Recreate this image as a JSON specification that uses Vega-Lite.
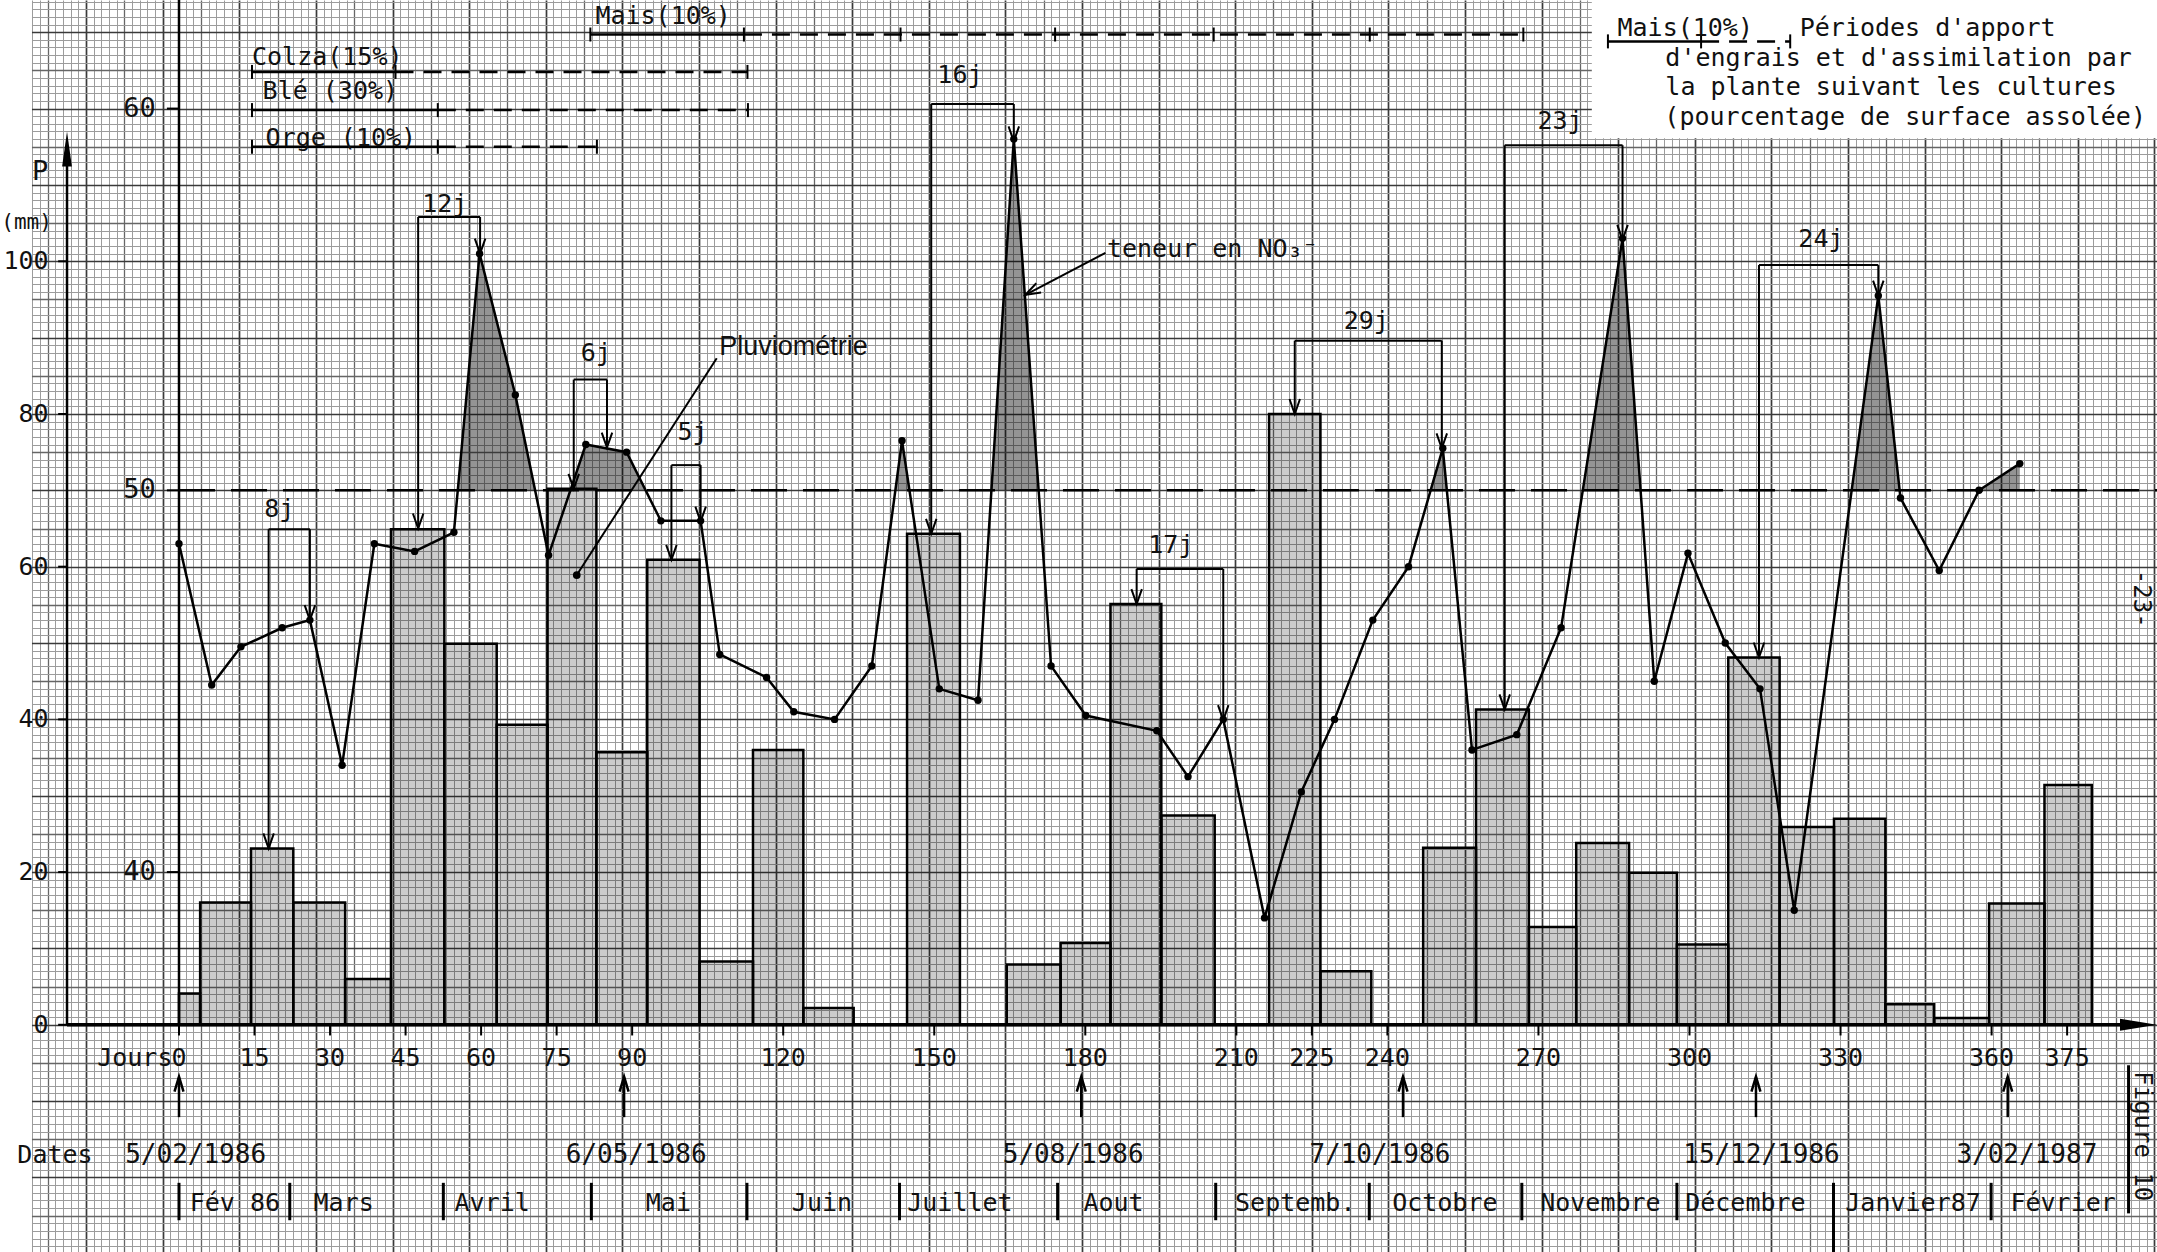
{
  "$schema": "https://vega.github.io/schema/vega-lite/v6.json",
  "width": 2157,
  "height": 1252,
  "autosize": "none",
  "padding": 0,
  "background": "white",
  "config": {
    "view": {"stroke": null},
    "text": {"font": "DejaVu Sans Mono", "fontSize": 25, "color": "#111111"}
  },
  "datasets": {
    "rain": [
      {"start": 0, "end": 4.2, "p": 4.1}, {"start": 4.2, "end": 14.3, "p": 16}, {"start": 14.3, "end": 22.7, "p": 23.1},
      {"start": 22.7, "end": 33.0, "p": 16}, {"start": 33.0, "end": 42.1, "p": 6}, {"start": 42.1, "end": 52.7, "p": 64.9},
      {"start": 52.7, "end": 63.1, "p": 49.9}, {"start": 63.1, "end": 73.2, "p": 39.3}, {"start": 73.2, "end": 82.9, "p": 70.2},
      {"start": 82.9, "end": 93.0, "p": 35.7}, {"start": 93.0, "end": 103.4, "p": 60.9}, {"start": 103.4, "end": 114.0, "p": 8.3},
      {"start": 114.0, "end": 124.0, "p": 36}, {"start": 124.0, "end": 134.0, "p": 2.2}, {"start": 144.6, "end": 155.1, "p": 64.3},
      {"start": 164.4, "end": 175.1, "p": 7.9}, {"start": 175.1, "end": 185.0, "p": 10.7}, {"start": 185.0, "end": 195.1, "p": 55.1},
      {"start": 195.1, "end": 205.7, "p": 27.4}, {"start": 216.5, "end": 226.7, "p": 80}, {"start": 226.7, "end": 236.8, "p": 7.0},
      {"start": 247.1, "end": 257.6, "p": 23.2}, {"start": 257.6, "end": 268.1, "p": 41.3}, {"start": 268.1, "end": 277.5, "p": 12.8},
      {"start": 277.5, "end": 288.0, "p": 23.8}, {"start": 288.0, "end": 297.5, "p": 19.9}, {"start": 297.5, "end": 307.7, "p": 10.5},
      {"start": 307.7, "end": 317.9, "p": 48.1}, {"start": 317.9, "end": 328.7, "p": 25.9}, {"start": 328.7, "end": 338.9, "p": 27.0},
      {"start": 338.9, "end": 348.6, "p": 2.7}, {"start": 348.6, "end": 359.5, "p": 0.9}, {"start": 359.5, "end": 370.5, "p": 15.9},
      {"start": 370.5, "end": 379.9, "p": 31.4}
    ],
    "no3": [
      {"d": 0, "n": 48.6}, {"d": 6.5, "n": 44.9}, {"d": 12.3, "n": 45.9}, {"d": 20.5, "n": 46.4}, {"d": 26.0, "n": 46.6},
      {"d": 32.4, "n": 42.8}, {"d": 38.8, "n": 48.6}, {"d": 46.8, "n": 48.4}, {"d": 54.6, "n": 48.9}, {"d": 59.7, "n": 56.2},
      {"d": 66.8, "n": 52.5}, {"d": 73.4, "n": 48.3}, {"d": 80.8, "n": 51.2}, {"d": 88.9, "n": 51.0}, {"d": 95.7, "n": 49.2},
      {"d": 103.6, "n": 49.2}, {"d": 107.4, "n": 45.7}, {"d": 116.7, "n": 45.1}, {"d": 122.1, "n": 44.2}, {"d": 130.2, "n": 44.0},
      {"d": 137.6, "n": 45.4}, {"d": 143.6, "n": 51.3}, {"d": 151.0, "n": 44.8}, {"d": 158.7, "n": 44.5}, {"d": 165.8, "n": 59.2},
      {"d": 173.2, "n": 45.4}, {"d": 180.1, "n": 44.1}, {"d": 194.2, "n": 43.7}, {"d": 200.4, "n": 42.5}, {"d": 207.4, "n": 44.0},
      {"d": 215.6, "n": 38.8}, {"d": 222.9, "n": 42.1}, {"d": 229.5, "n": 44.0}, {"d": 237.1, "n": 46.6}, {"d": 244.2, "n": 48.0},
      {"d": 251.0, "n": 51.1}, {"d": 256.8, "n": 43.2}, {"d": 265.7, "n": 43.6}, {"d": 274.5, "n": 46.4}, {"d": 286.7, "n": 56.6},
      {"d": 293.0, "n": 45.0}, {"d": 299.7, "n": 48.35}, {"d": 307.1, "n": 46.0}, {"d": 314.0, "n": 44.8}, {"d": 320.8, "n": 39.0},
      {"d": 337.5, "n": 55.1}, {"d": 341.9, "n": 49.8}, {"d": 349.6, "n": 47.9}, {"d": 357.5, "n": 50.0}, {"d": 365.6, "n": 50.7}
    ],
    "peaks": [
      {"r": "a", "d": 55.4, "n": 50}, {"r": "a", "d": 59.7, "n": 56.2}, {"r": "a", "d": 66.8, "n": 52.5}, {"r": "a", "d": 70.7, "n": 50},
      {"r": "b", "d": 77.7, "n": 50}, {"r": "b", "d": 80.8, "n": 51.2}, {"r": "b", "d": 88.9, "n": 51.0}, {"r": "b", "d": 92.7, "n": 50},
      {"r": "c", "d": 142.3, "n": 50}, {"r": "c", "d": 143.6, "n": 51.3}, {"r": "c", "d": 145.1, "n": 50},
      {"r": "d", "d": 161.4, "n": 50}, {"r": "d", "d": 165.8, "n": 59.2}, {"r": "d", "d": 170.7, "n": 50},
      {"r": "e", "d": 248.6, "n": 50}, {"r": "e", "d": 251.0, "n": 51.1}, {"r": "e", "d": 251.8, "n": 50},
      {"r": "f", "d": 278.8, "n": 50}, {"r": "f", "d": 286.7, "n": 56.6}, {"r": "f", "d": 290.3, "n": 50},
      {"r": "g", "d": 332.2, "n": 50}, {"r": "g", "d": 337.5, "n": 55.1}, {"r": "g", "d": 341.7, "n": 50},
      {"r": "h", "d": 357.5, "n": 50}, {"r": "h", "d": 365.6, "n": 50.7}
    ],
    "brackets": [
      {"t": "8j", "x1": 17.8, "x2": 26.0, "top": 64.9, "b1": 23.1, "b2": 53.0, "lx": 19.9, "ly": 67.5},
      {"t": "12j", "x1": 47.5, "x2": 59.8, "top": 105.8, "b1": 65.0, "b2": 101.0, "lx": 52.8, "ly": 107.5},
      {"t": "6j", "x1": 78.4, "x2": 85.0, "top": 84.5, "b1": 70.2, "b2": 75.6, "lx": 82.8, "ly": 88.0},
      {"t": "5j", "x1": 97.8, "x2": 103.6, "top": 73.3, "b1": 60.9, "b2": 65.9, "lx": 102.0, "ly": 77.6},
      {"t": "16j", "x1": 149.4, "x2": 165.8, "top": 120.6, "b1": 64.3, "b2": 115.7, "lx": 155.1, "ly": 124.4},
      {"t": "17j", "x1": 190.2, "x2": 207.4, "top": 59.7, "b1": 55.1, "b2": 39.9, "lx": 197.0, "ly": 62.8},
      {"t": "29j", "x1": 221.6, "x2": 250.8, "top": 89.6, "b1": 80.0, "b2": 75.5, "lx": 235.8, "ly": 92.2},
      {"t": "23j", "x1": 263.3, "x2": 286.7, "top": 115.2, "b1": 41.3, "b2": 102.8, "lx": 274.3, "ly": 118.4},
      {"t": "24j", "x1": 313.8, "x2": 337.5, "top": 99.5, "b1": 48.1, "b2": 95.5, "lx": 326.1, "ly": 102.9}
    ],
    "crops": [
      {"c": "Mais", "phase": "apport", "start": 81.7, "end": 112.2, "p": 129.7},
      {"c": "Mais", "phase": "assimilation", "start": 112.2, "end": 267.0, "p": 129.7},
      {"c": "Colza", "phase": "apport", "start": 14.5, "end": 43.0, "p": 124.8},
      {"c": "Colza", "phase": "assimilation", "start": 43.0, "end": 112.9, "p": 124.8},
      {"c": "Blé", "phase": "apport", "start": 14.5, "end": 51.4, "p": 119.8},
      {"c": "Blé", "phase": "assimilation", "start": 51.4, "end": 113.0, "p": 119.8},
      {"c": "Orge", "phase": "apport", "start": 14.5, "end": 51.4, "p": 115.0},
      {"c": "Orge", "phase": "assimilation", "start": 51.4, "end": 83.0, "p": 115.0},
      {"c": "légende", "phase": "apport", "start": 283.8, "end": 302.3, "p": 128.8},
      {"c": "légende", "phase": "assimilation", "start": 302.3, "end": 320.0, "p": 128.8}
    ],
    "cropTicks": [
      {"d": 81.7, "p": 129.7}, {"d": 112.2, "p": 129.7}, {"d": 143.3, "p": 129.7}, {"d": 174.0, "p": 129.7},
      {"d": 205.5, "p": 129.7}, {"d": 236.5, "p": 129.7}, {"d": 267.0, "p": 129.7},
      {"d": 14.5, "p": 124.8}, {"d": 43.0, "p": 124.8}, {"d": 112.9, "p": 124.8},
      {"d": 14.5, "p": 119.8}, {"d": 51.4, "p": 119.8}, {"d": 113.0, "p": 119.8},
      {"d": 14.5, "p": 115.0}, {"d": 51.4, "p": 115.0}, {"d": 83.0, "p": 115.0},
      {"d": 283.8, "p": 128.8}, {"d": 302.3, "p": 128.8}, {"d": 320.0, "p": 128.8}
    ],
    "textLeft": [
      {"t": "Mais(10%)", "x": 82.7, "y": 132.1},
      {"t": "Colza(15%)", "x": 14.5, "y": 126.7},
      {"t": "Blé (30%)", "x": 16.6, "y": 122.3},
      {"t": "Orge (10%)", "x": 17.2, "y": 116.1},
      {"t": "Mais(10%)", "x": 285.7, "y": 130.5},
      {"t": "Périodes d'apport", "x": 321.9, "y": 130.5},
      {"t": "d'engrais et d'assimilation par", "x": 295.2, "y": 126.6},
      {"t": "la plante suivant les cultures", "x": 295.2, "y": 122.8},
      {"t": "(pourcentage de surface assolée)", "x": 295.0, "y": 118.9},
      {"t": "teneur en NO₃⁻", "x": 184.3, "y": 101.6},
      {"t": "Dates", "x": -32.1, "y": -17.05}
    ],
    "textRight": [
      {"t": "Jours", "x": -1.3, "y": -4.35}
    ],
    "textSmall": [
      {"t": "(mm)", "x": -35.3, "y": 105}
    ],
    "textCenter": [
      {"t": "P", "x": -27.6, "y": 111.7}
    ],
    "textRot": [
      {"t": "-23-", "x": 389.6, "y": 55.8},
      {"t": "Figure 10", "x": 389.8, "y": -14.6}
    ],
    "pTicks": [{"v": 0}, {"v": 20}, {"v": 40}, {"v": 60}, {"v": 80}, {"v": 100}],
    "nTicks": [{"v": 40}, {"v": 50}, {"v": 60}],
    "dayTicks": [
      {"d": 0}, {"d": 15}, {"d": 30}, {"d": 45}, {"d": 60}, {"d": 75}, {"d": 90}, {"d": 120}, {"d": 150},
      {"d": 180}, {"d": 210}, {"d": 225}, {"d": 240}, {"d": 270}, {"d": 300}, {"d": 330}, {"d": 360}, {"d": 375}
    ],
    "dates": [
      {"date": "5/02/1986", "arrow": 0, "pos": 3.3},
      {"date": "6/05/1986", "arrow": 88.4, "pos": 90.8},
      {"date": "5/08/1986", "arrow": 179.2, "pos": 177.6},
      {"date": "7/10/1986", "arrow": 243.1, "pos": 238.5},
      {"date": "15/12/1986", "arrow": 313.2, "pos": 314.3},
      {"date": "3/02/1987", "arrow": 363.2, "pos": 367.0}
    ],
    "months": [
      {"m": "Fév 86", "pos": 11.1}, {"m": "Mars", "pos": 32.7}, {"m": "Avril", "pos": 62.2}, {"m": "Mai", "pos": 97.2},
      {"m": "Juin", "pos": 127.7}, {"m": "Juillet", "pos": 155.1}, {"m": "Aout", "pos": 185.6}, {"m": "Septemb.", "pos": 221.7},
      {"m": "Octobre", "pos": 251.4}, {"m": "Novembre", "pos": 282.3}, {"m": "Décembre", "pos": 311.1},
      {"m": "Janvier87", "pos": 344.4}, {"m": "Février", "pos": 374.2}
    ],
    "monthSeps": [
      {"d": 0, "y1": -20.7, "y2": -25.6}, {"d": 22.0, "y1": -20.7, "y2": -25.6}, {"d": 52.5, "y1": -20.7, "y2": -25.6},
      {"d": 81.9, "y1": -20.7, "y2": -25.6}, {"d": 112.8, "y1": -20.7, "y2": -25.6}, {"d": 143.1, "y1": -20.7, "y2": -25.6},
      {"d": 174.5, "y1": -20.7, "y2": -25.6}, {"d": 205.9, "y1": -20.7, "y2": -25.6}, {"d": 236.4, "y1": -20.7, "y2": -25.6},
      {"d": 266.7, "y1": -20.7, "y2": -25.6}, {"d": 297.5, "y1": -20.7, "y2": -25.6}, {"d": 328.6, "y1": -20.7, "y2": -29.8},
      {"d": 359.9, "y1": -20.7, "y2": -25.6}, {"d": 387.2, "y1": -5.3, "y2": -24.7}
    ],
    "boxes": [
      {"x1": -40, "x2": -29.2, "y1": -40, "y2": 140},
      {"x1": 280.6, "x2": 400, "y1": 116.1, "y2": 140}
    ],
    "pointers": [
      {"x1": 106.8, "y1": 87.3, "x2": 79.0, "y2": 58.9},
      {"x1": 184.0, "y1": 101.1, "x2": 168.1, "y2": 95.6}
    ],
    "one": [{"k": 1}]
  },
  "resolve": {"scale": {"x": "independent", "y": "independent"}, "axis": {"x": "independent", "y": "independent"}},
  "layer": [
    {
      "data": {"values": [{"g": 0}]},
      "mark": {"type": "point", "opacity": 0},
      "encoding": {
        "x": {"field": "g", "type": "quantitative", "title": null,
          "scale": {"domain": [-1.24, 280.35], "nice": false, "zero": false},
          "axis": {"orient": "top", "tickCount": 282, "grid": true, "labels": false, "ticks": false, "domain": false, "title": null,
            "gridColor": {"condition": [{"test": "datum.value % 10 === 0", "value": "#3a3a3a"}, {"test": "datum.value % 5 === 0", "value": "#666666"}], "value": "#9c9c9c"},
            "gridWidth": {"condition": [{"test": "datum.value % 10 === 0", "value": 1.7}, {"test": "datum.value % 5 === 0", "value": 1.3}], "value": 1}}},
        "y": {"field": "g", "type": "quantitative", "title": null,
          "scale": {"domain": [-29.76, 134.22], "nice": false, "zero": false},
          "axis": {"orient": "left", "tickCount": 164, "grid": true, "labels": false, "ticks": false, "domain": false, "title": null,
            "gridColor": {"condition": [{"test": "datum.value % 10 === 0", "value": "#3a3a3a"}, {"test": "datum.value % 5 === 0", "value": "#666666"}], "value": "#9c9c9c"},
            "gridWidth": {"condition": [{"test": "datum.value % 10 === 0", "value": 1.7}, {"test": "datum.value % 5 === 0", "value": 1.3}], "value": 1}}}
      }
    },
    {
      "layer": [
        {
          "data": {"name": "boxes"},
          "mark": {"type": "rect", "fill": "white", "stroke": null},
          "encoding": {
            "x": {"field": "x1", "type": "quantitative", "scale": {"domain": [-35.55, 392.85], "nice": false, "zero": false}, "axis": null},
            "x2": {"field": "x2"},
            "y": {"field": "y1", "type": "quantitative", "scale": {"domain": [-29.76, 134.22], "nice": false, "zero": false}, "axis": null},
            "y2": {"field": "y2"}
          }
        },
        {
          "data": {"name": "rain"},
          "mark": {"type": "rect", "fill": "#000000", "fillOpacity": 0.2, "stroke": "#000000", "strokeWidth": 2.5},
          "encoding": {
            "x": {"field": "start", "type": "quantitative", "scale": {"domain": [-35.55, 392.85], "nice": false, "zero": false}, "axis": null},
            "x2": {"field": "end"},
            "y": {"field": "p", "type": "quantitative", "scale": {"domain": [-29.76, 134.22], "nice": false, "zero": false}, "axis": null},
            "y2": {"datum": 0}
          }
        },
        {
          "data": {"name": "crops"},
          "mark": {"type": "rule", "color": "#000000", "strokeWidth": 2.5},
          "encoding": {
            "x": {"field": "start", "type": "quantitative", "scale": {"domain": [-35.55, 392.85], "nice": false, "zero": false}, "axis": null},
            "x2": {"field": "end"},
            "y": {"field": "p", "type": "quantitative", "scale": {"domain": [-29.76, 134.22], "nice": false, "zero": false}, "axis": null},
            "strokeDash": {"field": "phase", "type": "nominal", "scale": {"domain": ["apport", "assimilation"], "range": [[1, 0], [18, 10]]}, "legend": null}
          }
        },
        {
          "data": {"name": "cropTicks"},
          "mark": {"type": "point", "shape": "M0,-1L0,1", "size": 196, "filled": false, "stroke": "#000000", "strokeWidth": 2, "opacity": 1},
          "encoding": {
            "x": {"field": "d", "type": "quantitative", "scale": {"domain": [-35.55, 392.85], "nice": false, "zero": false}, "axis": null},
            "y": {"field": "p", "type": "quantitative", "scale": {"domain": [-29.76, 134.22], "nice": false, "zero": false}, "axis": null}
          }
        },
        {
          "data": {"name": "brackets"},
          "mark": {"type": "rule", "color": "#000000", "strokeWidth": 2},
          "encoding": {
            "x": {"field": "x1", "type": "quantitative", "scale": {"domain": [-35.55, 392.85], "nice": false, "zero": false}, "axis": null},
            "x2": {"field": "x2"},
            "y": {"field": "top", "type": "quantitative", "scale": {"domain": [-29.76, 134.22], "nice": false, "zero": false}, "axis": null}
          }
        },
        {
          "data": {"name": "brackets"},
          "mark": {"type": "rule", "color": "#000000", "strokeWidth": 2},
          "encoding": {
            "x": {"field": "x1", "type": "quantitative", "scale": {"domain": [-35.55, 392.85], "nice": false, "zero": false}, "axis": null},
            "y": {"field": "top", "type": "quantitative", "scale": {"domain": [-29.76, 134.22], "nice": false, "zero": false}, "axis": null},
            "y2": {"field": "b1"}
          }
        },
        {
          "data": {"name": "brackets"},
          "mark": {"type": "rule", "color": "#000000", "strokeWidth": 2},
          "encoding": {
            "x": {"field": "x2", "type": "quantitative", "scale": {"domain": [-35.55, 392.85], "nice": false, "zero": false}, "axis": null},
            "y": {"field": "top", "type": "quantitative", "scale": {"domain": [-29.76, 134.22], "nice": false, "zero": false}, "axis": null},
            "y2": {"field": "b2"}
          }
        },
        {
          "data": {"name": "brackets"},
          "mark": {"type": "point", "shape": "M-0.35,-1L0,0L0.35,-1", "size": 900, "filled": false, "stroke": "#000000", "strokeWidth": 2, "opacity": 1},
          "encoding": {
            "x": {"field": "x1", "type": "quantitative", "scale": {"domain": [-35.55, 392.85], "nice": false, "zero": false}, "axis": null},
            "y": {"field": "b1", "type": "quantitative", "scale": {"domain": [-29.76, 134.22], "nice": false, "zero": false}, "axis": null}
          }
        },
        {
          "data": {"name": "brackets"},
          "mark": {"type": "point", "shape": "M-0.35,-1L0,0L0.35,-1", "size": 900, "filled": false, "stroke": "#000000", "strokeWidth": 2, "opacity": 1},
          "encoding": {
            "x": {"field": "x2", "type": "quantitative", "scale": {"domain": [-35.55, 392.85], "nice": false, "zero": false}, "axis": null},
            "y": {"field": "b2", "type": "quantitative", "scale": {"domain": [-29.76, 134.22], "nice": false, "zero": false}, "axis": null}
          }
        },
        {
          "data": {"name": "brackets"},
          "mark": {"type": "text", "align": "center", "baseline": "middle"},
          "encoding": {
            "x": {"field": "lx", "type": "quantitative", "scale": {"domain": [-35.55, 392.85], "nice": false, "zero": false}, "axis": null},
            "y": {"field": "ly", "type": "quantitative", "scale": {"domain": [-29.76, 134.22], "nice": false, "zero": false}, "axis": null},
            "text": {"field": "t"}
          }
        },
        {
          "data": {"name": "one"},
          "mark": {"type": "rule", "color": "#000000", "strokeWidth": 3.5},
          "encoding": {
            "x": {"datum": -22.24, "type": "quantitative", "scale": {"domain": [-35.55, 392.85], "nice": false, "zero": false}, "axis": null},
            "x2": {"datum": 390},
            "y": {"datum": 0, "type": "quantitative", "scale": {"domain": [-29.76, 134.22], "nice": false, "zero": false}, "axis": null}
          }
        },
        {
          "data": {"name": "one"},
          "mark": {"type": "rule", "color": "#000000", "strokeWidth": 2.5},
          "encoding": {
            "x": {"datum": -22.24, "type": "quantitative", "scale": {"domain": [-35.55, 392.85], "nice": false, "zero": false}, "axis": null},
            "y": {"datum": 0, "type": "quantitative", "scale": {"domain": [-29.76, 134.22], "nice": false, "zero": false}, "axis": null},
            "y2": {"datum": 114}
          }
        },
        {
          "data": {"name": "one"},
          "mark": {"type": "rule", "color": "#000000", "strokeWidth": 2.5},
          "encoding": {
            "x": {"datum": 0, "type": "quantitative", "scale": {"domain": [-35.55, 392.85], "nice": false, "zero": false}, "axis": null},
            "y": {"datum": 0, "type": "quantitative", "scale": {"domain": [-29.76, 134.22], "nice": false, "zero": false}, "axis": null},
            "y2": {"datum": 134.22}
          }
        },
        {
          "data": {"name": "one"},
          "mark": {"type": "point", "shape": "M0,0L-0.14,1L0.14,1Z", "size": 4900, "filled": true, "fill": "#000000", "stroke": null, "opacity": 1},
          "encoding": {
            "x": {"datum": -22.24, "type": "quantitative", "scale": {"domain": [-35.55, 392.85], "nice": false, "zero": false}, "axis": null},
            "y": {"datum": 117, "type": "quantitative", "scale": {"domain": [-29.76, 134.22], "nice": false, "zero": false}, "axis": null}
          }
        },
        {
          "data": {"name": "one"},
          "mark": {"type": "point", "shape": "M0,0L-1,-0.16L-1,0.16Z", "size": 5476, "filled": true, "fill": "#000000", "stroke": null, "opacity": 1},
          "encoding": {
            "x": {"datum": 392.85, "type": "quantitative", "scale": {"domain": [-35.55, 392.85], "nice": false, "zero": false}, "axis": null},
            "y": {"datum": 0, "type": "quantitative", "scale": {"domain": [-29.76, 134.22], "nice": false, "zero": false}, "axis": null}
          }
        },
        {
          "data": {"name": "pTicks"},
          "mark": {"type": "rule", "color": "#000000", "strokeWidth": 2},
          "encoding": {
            "x": {"datum": -24.0, "type": "quantitative", "scale": {"domain": [-35.55, 392.85], "nice": false, "zero": false}, "axis": null},
            "x2": {"datum": -22.24},
            "y": {"field": "v", "type": "quantitative", "scale": {"domain": [-29.76, 134.22], "nice": false, "zero": false}, "axis": null}
          }
        },
        {
          "data": {"name": "pTicks"},
          "mark": {"type": "text", "align": "right", "baseline": "middle", "fontSize": 25},
          "encoding": {
            "x": {"datum": -25.9, "type": "quantitative", "scale": {"domain": [-35.55, 392.85], "nice": false, "zero": false}, "axis": null},
            "y": {"field": "v", "type": "quantitative", "scale": {"domain": [-29.76, 134.22], "nice": false, "zero": false}, "axis": null},
            "text": {"field": "v"}
          }
        },
        {
          "data": {"name": "dayTicks"},
          "mark": {"type": "rule", "color": "#000000", "strokeWidth": 2},
          "encoding": {
            "x": {"field": "d", "type": "quantitative", "scale": {"domain": [-35.55, 392.85], "nice": false, "zero": false}, "axis": null},
            "y": {"datum": 0, "type": "quantitative", "scale": {"domain": [-29.76, 134.22], "nice": false, "zero": false}, "axis": null},
            "y2": {"datum": -1.4}
          }
        },
        {
          "data": {"name": "dayTicks"},
          "mark": {"type": "text", "align": "center", "baseline": "middle"},
          "encoding": {
            "x": {"field": "d", "type": "quantitative", "scale": {"domain": [-35.55, 392.85], "nice": false, "zero": false}, "axis": null},
            "y": {"datum": -4.35, "type": "quantitative", "scale": {"domain": [-29.76, 134.22], "nice": false, "zero": false}, "axis": null},
            "text": {"field": "d"}
          }
        },
        {
          "data": {"name": "dates"},
          "mark": {"type": "rule", "color": "#000000", "strokeWidth": 2.5},
          "encoding": {
            "x": {"field": "arrow", "type": "quantitative", "scale": {"domain": [-35.55, 392.85], "nice": false, "zero": false}, "axis": null},
            "y": {"datum": -6.9, "type": "quantitative", "scale": {"domain": [-29.76, 134.22], "nice": false, "zero": false}, "axis": null},
            "y2": {"datum": -12.1}
          }
        },
        {
          "data": {"name": "dates"},
          "mark": {"type": "point", "shape": "M-0.3,1L0,0L0.3,1", "size": 900, "filled": false, "stroke": "#000000", "strokeWidth": 2.5, "opacity": 1},
          "encoding": {
            "x": {"field": "arrow", "type": "quantitative", "scale": {"domain": [-35.55, 392.85], "nice": false, "zero": false}, "axis": null},
            "y": {"datum": -6.8, "type": "quantitative", "scale": {"domain": [-29.76, 134.22], "nice": false, "zero": false}, "axis": null}
          }
        },
        {
          "data": {"name": "dates"},
          "mark": {"type": "text", "align": "center", "baseline": "middle", "fontSize": 26},
          "encoding": {
            "x": {"field": "pos", "type": "quantitative", "scale": {"domain": [-35.55, 392.85], "nice": false, "zero": false}, "axis": null},
            "y": {"datum": -17.05, "type": "quantitative", "scale": {"domain": [-29.76, 134.22], "nice": false, "zero": false}, "axis": null},
            "text": {"field": "date"}
          }
        },
        {
          "data": {"name": "months"},
          "mark": {"type": "text", "align": "center", "baseline": "middle"},
          "encoding": {
            "x": {"field": "pos", "type": "quantitative", "scale": {"domain": [-35.55, 392.85], "nice": false, "zero": false}, "axis": null},
            "y": {"datum": -23.3, "type": "quantitative", "scale": {"domain": [-29.76, 134.22], "nice": false, "zero": false}, "axis": null},
            "text": {"field": "m"}
          }
        },
        {
          "data": {"name": "monthSeps"},
          "mark": {"type": "rule", "color": "#000000", "strokeWidth": 3},
          "encoding": {
            "x": {"field": "d", "type": "quantitative", "scale": {"domain": [-35.55, 392.85], "nice": false, "zero": false}, "axis": null},
            "y": {"field": "y1", "type": "quantitative", "scale": {"domain": [-29.76, 134.22], "nice": false, "zero": false}, "axis": null},
            "y2": {"field": "y2"}
          }
        },
        {
          "data": {"name": "pointers"},
          "mark": {"type": "rule", "color": "#000000", "strokeWidth": 2},
          "encoding": {
            "x": {"field": "x1", "type": "quantitative", "scale": {"domain": [-35.55, 392.85], "nice": false, "zero": false}, "axis": null},
            "x2": {"field": "x2"},
            "y": {"field": "y1", "type": "quantitative", "scale": {"domain": [-29.76, 134.22], "nice": false, "zero": false}, "axis": null},
            "y2": {"field": "y2"}
          }
        },
        {
          "data": {"name": "one"},
          "mark": {"type": "point", "shape": "circle", "size": 60, "filled": true, "fill": "#000000", "opacity": 1},
          "encoding": {
            "x": {"datum": 79.0, "type": "quantitative", "scale": {"domain": [-35.55, 392.85], "nice": false, "zero": false}, "axis": null},
            "y": {"datum": 58.9, "type": "quantitative", "scale": {"domain": [-29.76, 134.22], "nice": false, "zero": false}, "axis": null}
          }
        },
        {
          "data": {"name": "one"},
          "mark": {"type": "point", "shape": "M-0.35,-1L0,0L0.35,-1", "size": 900, "angle": 62.5, "filled": false, "stroke": "#000000", "strokeWidth": 2, "opacity": 1},
          "encoding": {
            "x": {"datum": 168.1, "type": "quantitative", "scale": {"domain": [-35.55, 392.85], "nice": false, "zero": false}, "axis": null},
            "y": {"datum": 95.6, "type": "quantitative", "scale": {"domain": [-29.76, 134.22], "nice": false, "zero": false}, "axis": null}
          }
        },
        {
          "data": {"name": "one"},
          "mark": {"type": "text", "align": "left", "baseline": "middle", "font": "Liberation Sans", "fontSize": 27, "text": "Pluviométrie"},
          "encoding": {
            "x": {"datum": 107.3, "type": "quantitative", "scale": {"domain": [-35.55, 392.85], "nice": false, "zero": false}, "axis": null},
            "y": {"datum": 88.8, "type": "quantitative", "scale": {"domain": [-29.76, 134.22], "nice": false, "zero": false}, "axis": null}
          }
        },
        {
          "data": {"name": "textLeft"},
          "mark": {"type": "text", "align": "left", "baseline": "middle"},
          "encoding": {
            "x": {"field": "x", "type": "quantitative", "scale": {"domain": [-35.55, 392.85], "nice": false, "zero": false}, "axis": null},
            "y": {"field": "y", "type": "quantitative", "scale": {"domain": [-29.76, 134.22], "nice": false, "zero": false}, "axis": null},
            "text": {"field": "t"}
          }
        },
        {
          "data": {"name": "textSmall"},
          "mark": {"type": "text", "align": "left", "baseline": "middle", "fontSize": 21},
          "encoding": {
            "x": {"field": "x", "type": "quantitative", "scale": {"domain": [-35.55, 392.85], "nice": false, "zero": false}, "axis": null},
            "y": {"field": "y", "type": "quantitative", "scale": {"domain": [-29.76, 134.22], "nice": false, "zero": false}, "axis": null},
            "text": {"field": "t"}
          }
        },
        {
          "data": {"name": "textRight"},
          "mark": {"type": "text", "align": "right", "baseline": "middle"},
          "encoding": {
            "x": {"field": "x", "type": "quantitative", "scale": {"domain": [-35.55, 392.85], "nice": false, "zero": false}, "axis": null},
            "y": {"field": "y", "type": "quantitative", "scale": {"domain": [-29.76, 134.22], "nice": false, "zero": false}, "axis": null},
            "text": {"field": "t"}
          }
        },
        {
          "data": {"name": "textCenter"},
          "mark": {"type": "text", "align": "center", "baseline": "middle", "fontSize": 27},
          "encoding": {
            "x": {"field": "x", "type": "quantitative", "scale": {"domain": [-35.55, 392.85], "nice": false, "zero": false}, "axis": null},
            "y": {"field": "y", "type": "quantitative", "scale": {"domain": [-29.76, 134.22], "nice": false, "zero": false}, "axis": null},
            "text": {"field": "t"}
          }
        },
        {
          "data": {"name": "textRot"},
          "mark": {"type": "text", "align": "center", "baseline": "middle", "angle": 90, "fontSize": 24},
          "encoding": {
            "x": {"field": "x", "type": "quantitative", "scale": {"domain": [-35.55, 392.85], "nice": false, "zero": false}, "axis": null},
            "y": {"field": "y", "type": "quantitative", "scale": {"domain": [-29.76, 134.22], "nice": false, "zero": false}, "axis": null},
            "text": {"field": "t"}
          }
        }
      ]
    },
    {
      "layer": [
        {
          "data": {"name": "peaks"},
          "mark": {"type": "area", "fill": "#000000", "fillOpacity": 0.42, "stroke": null},
          "encoding": {
            "x": {"field": "d", "type": "quantitative", "scale": {"domain": [-35.55, 392.85], "nice": false, "zero": false}, "axis": null},
            "y": {"field": "n", "type": "quantitative", "scale": {"domain": [30.048, 62.844], "nice": false, "zero": false}, "axis": null},
            "y2": {"datum": 50},
            "detail": {"field": "r", "type": "nominal"}
          }
        },
        {
          "data": {"name": "one"},
          "mark": {"type": "rule", "color": "#000000", "strokeWidth": 2.5, "strokeDash": [36, 16]},
          "encoding": {
            "x": {"datum": 0, "type": "quantitative", "scale": {"domain": [-35.55, 392.85], "nice": false, "zero": false}, "axis": null},
            "x2": {"datum": 392.85},
            "y": {"datum": 50, "type": "quantitative", "scale": {"domain": [30.048, 62.844], "nice": false, "zero": false}, "axis": null}
          }
        },
        {
          "data": {"name": "no3"},
          "mark": {"type": "line", "color": "#000000", "strokeWidth": 2.5, "point": {"filled": true, "fill": "#000000", "size": 55}},
          "encoding": {
            "x": {"field": "d", "type": "quantitative", "scale": {"domain": [-35.55, 392.85], "nice": false, "zero": false}, "axis": null},
            "y": {"field": "n", "type": "quantitative", "scale": {"domain": [30.048, 62.844], "nice": false, "zero": false}, "axis": null}
          }
        },
        {
          "data": {"name": "nTicks"},
          "mark": {"type": "rule", "color": "#000000", "strokeWidth": 2},
          "encoding": {
            "x": {"datum": -2.4, "type": "quantitative", "scale": {"domain": [-35.55, 392.85], "nice": false, "zero": false}, "axis": null},
            "x2": {"datum": 0},
            "y": {"field": "v", "type": "quantitative", "scale": {"domain": [30.048, 62.844], "nice": false, "zero": false}, "axis": null}
          }
        },
        {
          "data": {"name": "nTicks"},
          "mark": {"type": "text", "align": "right", "baseline": "middle", "fontSize": 27},
          "encoding": {
            "x": {"datum": -4.6, "type": "quantitative", "scale": {"domain": [-35.55, 392.85], "nice": false, "zero": false}, "axis": null},
            "y": {"field": "v", "type": "quantitative", "scale": {"domain": [30.048, 62.844], "nice": false, "zero": false}, "axis": null},
            "text": {"field": "v"}
          }
        }
      ]
    }
  ]
}
